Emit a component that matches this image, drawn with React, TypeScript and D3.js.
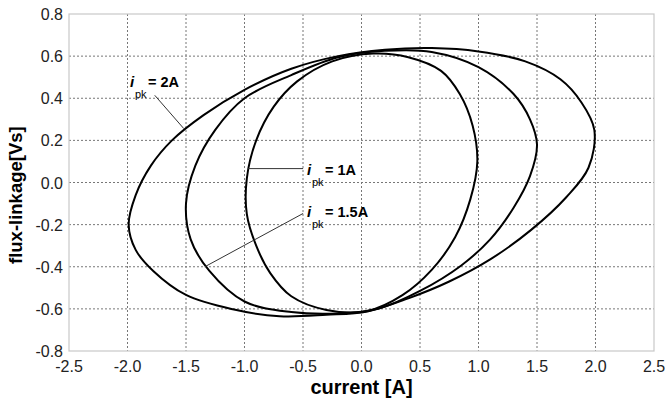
import * as d3 from "d3";
import { useEffect } from "react";

// tick labels
const xTicks = [-2.5, -2.0, -1.5, -1.0, -0.5, 0.0, 0.5, 1.0, 1.5, 2.0, 2.5];
const yTicks = [-0.8, -0.6, -0.4, -0.2, 0.0, 0.2, 0.4, 0.6, 0.8];

// loops, [current A, flux Vs], going round counter-clockwise
const loop1A: [number, number][] = [
  [0.1, 0.612], [-0.25, 0.575], [-0.55, 0.48], [-0.75, 0.36], [-0.9, 0.2],
  [-0.98, 0.02], [-0.98, -0.15], [-0.9, -0.3], [-0.78, -0.43], [-0.6, -0.54],
  [-0.3, -0.605], [0.05, -0.61], [0.35, -0.535], [0.6, -0.415], [0.8, -0.26],
  [0.93, -0.08], [0.99, 0.1], [0.95, 0.27], [0.84, 0.42], [0.68, 0.53],
  [0.4, 0.595],
];
const loop15A: [number, number][] = [
  [0.2, 0.625], [-0.2, 0.595], [-0.6, 0.51], [-1.0, 0.4], [-1.25, 0.25],
  [-1.42, 0.08], [-1.5, -0.1], [-1.46, -0.27], [-1.3, -0.42], [-1.0, -0.565],
  [-0.6, -0.615], [-0.2, -0.622], [0.15, -0.598], [0.5, -0.515], [0.85, -0.395],
  [1.1, -0.27], [1.3, -0.12], [1.44, 0.03], [1.5, 0.18], [1.44, 0.3],
  [1.3, 0.42], [1.0, 0.548], [0.6, 0.62],
];
const loop2A: [number, number][] = [
  [0.2, 0.63], [-0.2, 0.6], [-0.6, 0.54], [-1.0, 0.44], [-1.35, 0.32],
  [-1.62, 0.2], [-1.8, 0.08], [-1.93, -0.06], [-1.99, -0.2], [-1.93, -0.32],
  [-1.78, -0.42], [-1.5, -0.534], [-1.1, -0.602], [-0.7, -0.635], [-0.3, -0.628],
  [0.05, -0.612], [0.4, -0.55], [0.75, -0.47], [1.1, -0.365], [1.45, -0.225],
  [1.75, -0.07], [1.94, 0.07], [1.99, 0.25], [1.88, 0.38], [1.7, 0.49],
  [1.4, 0.575], [1.0, 0.622], [0.6, 0.638],
];
const loops = [loop1A, loop15A, loop2A];

const W = 665, H = 402;
const margin = { top: 14, right: 11, bottom: 51, left: 69 };

export default function App() {
  useEffect(() => {
    document.body.style.margin = "0";
  }, []);

  const x = d3.scaleLinear().domain([-2.5, 2.5]).range([margin.left, W - margin.right]);
  const y = d3.scaleLinear().domain([-0.8, 0.8]).range([H - margin.bottom, margin.top]);

  const line = d3
    .line<[number, number]>()
    .x((d) => x(d[0]))
    .y((d) => y(d[1]))
    .curve(d3.curveCatmullRomClosed.alpha(0.5));

  const font = "'Liberation Sans', Arial, sans-serif";

  // label helper: italic i, subscript pk, then "= value"
  const label = (px: number, py: number, val: string) => (
    <g fontFamily={font} fill="#000">
      <text x={px} y={py} fontSize={15} fontWeight="bold" fontStyle="italic">i</text>
      <text x={px + 5} y={py + 11} fontSize={11} fill="#000">pk</text>
      <text x={px + 18} y={py} fontSize={14.5} fontWeight="bold">{"= " + val}</text>
    </g>
  );

  return (
    <svg width={W} height={H} style={{ display: "block", background: "#fff" }}>
      {/* grid */}
      <g stroke="#777" strokeWidth={1} strokeDasharray="2,2">
        {xTicks.slice(1, -1).map((t) => (
          <line key={"gx" + t} x1={x(t)} x2={x(t)} y1={y(0.8)} y2={y(-0.8)} />
        ))}
        {yTicks.slice(1, -1).map((t) => (
          <line key={"gy" + t} x1={x(-2.5)} x2={x(2.5)} y1={y(t)} y2={y(t)} />
        ))}
      </g>
      <rect
        x={x(-2.5)}
        y={y(0.8)}
        width={x(2.5) - x(-2.5)}
        height={y(-0.8) - y(0.8)}
        fill="none"
        stroke="#c8c8c8"
        strokeWidth={1.2}
      />

      {/* tick labels */}
      <g fontFamily={font} fontSize={16} fill="#222">
        {xTicks.map((t) => (
          <text key={"tx" + t} x={x(t)} y={y(-0.8) + 21} textAnchor="middle">
            {t.toFixed(1)}
          </text>
        ))}
        {yTicks.map((t) => (
          <text key={"ty" + t} x={x(-2.5) - 6} y={y(t) + 6} textAnchor="end">
            {t.toFixed(1)}
          </text>
        ))}
      </g>

      {/* axis titles */}
      <text
        x={(x(-2.5) + x(2.5)) / 2}
        y={H - 8}
        textAnchor="middle"
        fontFamily={font}
        fontSize={20}
        fontWeight="bold"
      >
        current [A]
      </text>
      <text
        transform={`translate(22,${y(-0.06)}) rotate(-90)`}
        textAnchor="middle"
        fontFamily={font}
        fontSize={18.5}
        fontWeight="bold"
      >
        flux-linkage[Vs]
      </text>

      {/* loops */}
      <g fill="none" stroke="#000" strokeWidth={2}>
        {loops.map((l, i) => (
          <path key={i} d={line(l) ?? ""} />
        ))}
      </g>

      {/* leader lines */}
      <g stroke="#333" strokeWidth={1}>
        <line x1={x(-1.767)} y1={y(0.414)} x2={x(-1.519)} y2={y(0.256)} />
        <line x1={x(-0.969)} y1={y(0.066)} x2={x(-0.499)} y2={y(0.066)} />
        <line x1={x(-0.499)} y1={y(-0.147)} x2={x(-1.339)} y2={y(-0.4)} />
      </g>

      {label(130, 87, "2A")}
      {label(307, 175, "1A")}
      {label(307, 217, "1.5A")}
    </svg>
  );
}
